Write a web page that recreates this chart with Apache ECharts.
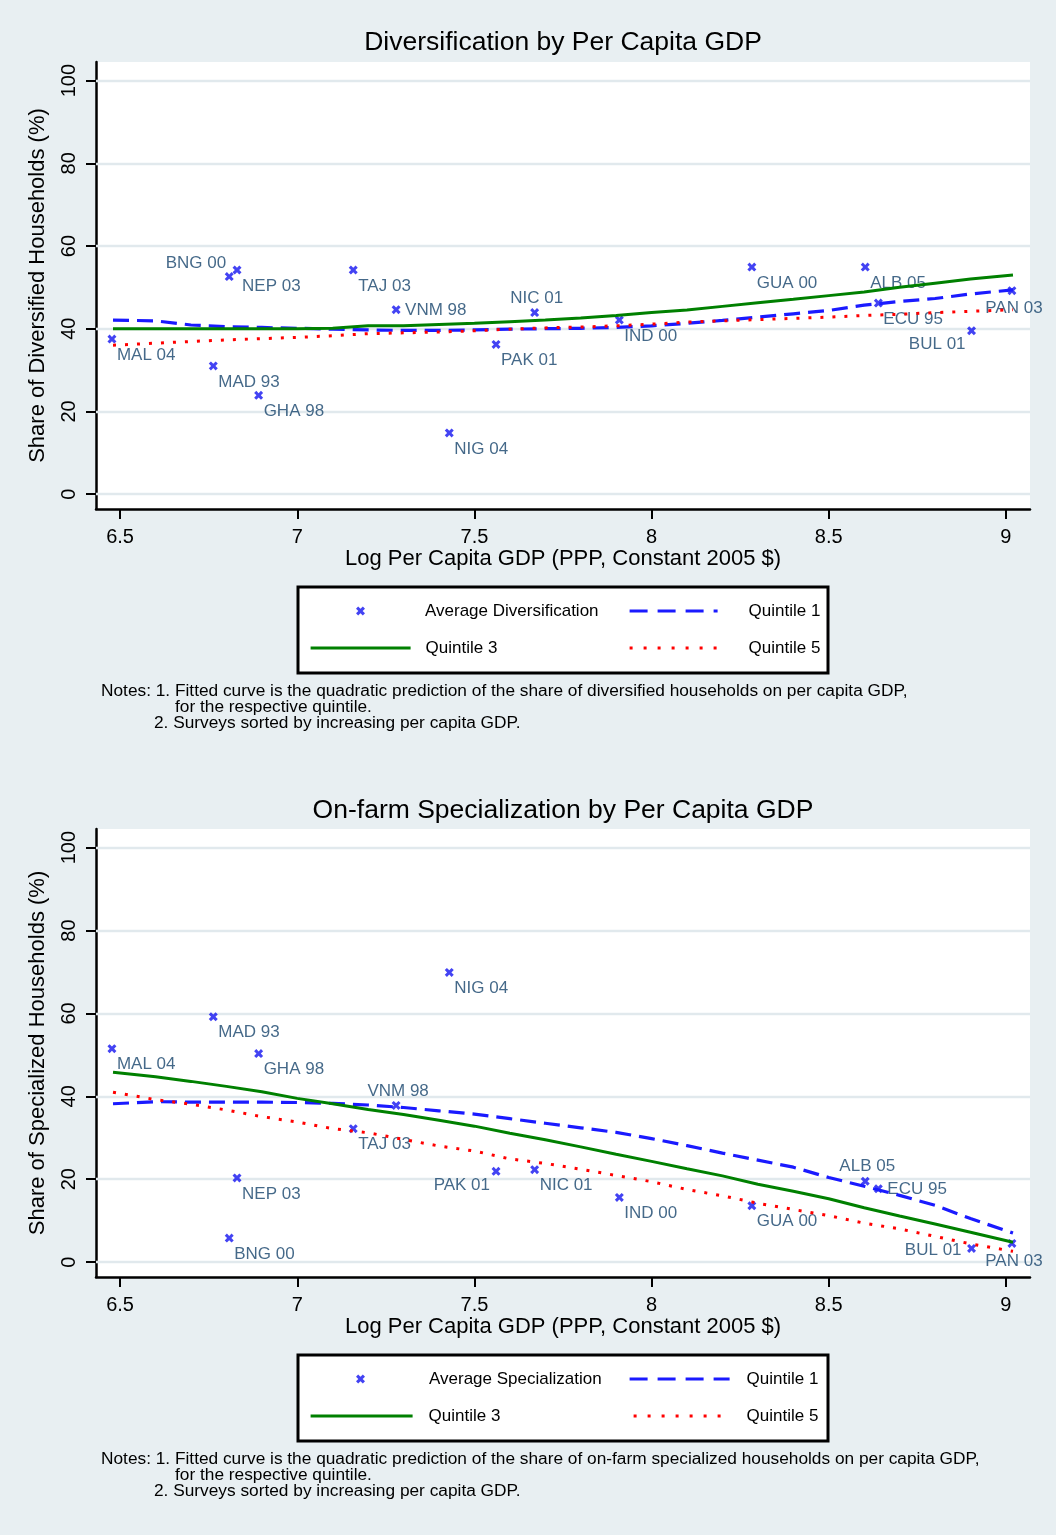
<!DOCTYPE html>
<html>
<head>
<meta charset="utf-8">
<script src="https://cdn.jsdelivr.net/npm/echarts@6/dist/echarts.min.js"></script>
<style>
html,body{margin:0;padding:0;background:#e8eff2;}
#chart{width:1056px;height:1535px;}
</style>
</head>
<body>
<div id="chart"></div>
<script>
// ---------------- DATA ----------------
const surveys = ['MAL 04','MAD 93','BNG 00','NEP 03','GHA 98','TAJ 03','VNM 98','NIG 04','PAK 01','NIC 01','IND 00','GUA 00','ALB 05','ECU 95','BUL 01','PAN 03'];
const logGdp = [6.477,6.763,6.808,6.830,6.891,7.158,7.279,7.429,7.561,7.670,7.909,8.283,8.603,8.640,8.903,9.017];
const divShare = [37.5,31.0,52.6,54.2,23.9,54.2,44.6,14.8,36.2,43.9,42.1,54.9,54.9,46.2,39.5,49.2];
const specShare = [51.5,59.2,5.8,20.3,50.3,32.2,37.8,69.9,21.9,22.3,15.6,13.6,19.5,17.7,3.3,4.5];
// marker-label clock positions (as in Stata mlabvposition)
const divLabelClock = [4,4,10,4,4,4,3,4,4,12,4,4,4,4,7,6];
const specLabelClock = [4,4,4,4,4,4,12,4,7,4,4,4,12,3,9,6];

// fitted curves read at these log-GDP values
const fitX = [6.48,6.6,6.7,6.8,6.9,7.0,7.1,7.2,7.3,7.4,7.5,7.6,7.7,7.8,7.9,8.0,8.1,8.2,8.3,8.4,8.5,8.6,8.7,8.8,8.9,9.02];
const divQ1 = [42.1,41.9,40.9,40.5,40.3,40.1,39.9,39.7,39.6,39.6,39.7,39.9,40.0,40.1,40.3,40.7,41.3,42.0,42.8,43.6,44.4,45.7,46.6,47.3,48.4,49.4];
const divQ3 = [40.0,40.0,40.0,40.0,40.0,40.0,40.1,40.7,40.7,41.0,41.3,41.7,42.1,42.6,43.2,43.9,44.5,45.4,46.3,47.1,48.0,48.9,50.0,51.0,52.0,53.0];
const divQ5 = [36.0,36.5,36.9,37.3,37.6,37.9,38.3,38.8,39.0,39.2,39.5,39.9,40.2,40.4,40.7,41.1,41.6,41.9,42.2,42.5,42.8,43.2,43.5,43.9,44.2,44.6];
const specQ1 = [38.2,38.7,38.6,38.6,38.6,38.5,38.3,37.9,37.3,36.5,35.7,34.6,33.5,32.4,31.3,29.8,28.1,26.3,24.6,22.9,20.4,18.3,16.1,13.7,10.5,7.0];
const specQ3 = [45.8,44.7,43.6,42.4,41.1,39.5,38.2,36.8,35.6,34.2,32.8,31.1,29.5,27.8,26.0,24.3,22.5,20.8,18.8,17.1,15.3,13.1,11.1,9.2,7.2,4.8];
const specQ5 = [41.0,39.2,38.1,36.7,35.1,33.8,32.2,31.2,29.6,28.0,26.8,24.9,23.8,22.4,20.9,19.4,17.5,16.0,14.2,12.7,11.2,9.4,8.0,6.2,4.4,2.6];

const xTicks = [6.5,7,7.5,8,8.5,9];
const yTicks = [0,20,40,60,80,100];

const titles = ['Diversification by Per Capita GDP','On-farm Specialization by Per Capita GDP'];
const yNames = ['Share of Diversified Households (%)','Share of Specialized Households (%)'];
const xName = 'Log Per Capita GDP (PPP, Constant 2005 $)';
const avgNames = ['Average Diversification','Average Specialization'];
const qNames = ['Quintile 1','Quintile 3','Quintile 5'];
const notes = [
  ['Notes: 1. Fitted curve is the quadratic prediction of the share of diversified households on per capita GDP,','for the respective quintile.','2. Surveys sorted by increasing per capita GDP.'],
  ['Notes: 1. Fitted curve is the quadratic prediction of the share of on-farm specialized households on per capita GDP,','for the respective quintile.','2. Surveys sorted by increasing per capita GDP.']
];

// ---------------- STYLE ----------------
const FONT = '"Liberation Sans", Helvetica, Arial, sans-serif';
const BG = '#e8eff2';
const GRIDC = '#e1e9ed';
const LABELC = '#17436b';
const BLUE = '#1a1aff', GREEN = '#008000', RED = '#ff0000', MBLUE = '#1414f0';
const XSYM = 'path://M0,2.4L2.4,0L5,2.6L7.6,0L10,2.4L7.4,5L10,7.6L7.6,10L5,7.4L2.4,10L0,7.6L2.6,5Z';
const clockMap = {
  3: {dx: 9, dy: 1, align: 'left', va: 'middle'},
  4: {dx: 5, dy: 16, align: 'left', va: 'middle'},
  6: {dx: 2, dy: 9, align: 'center', va: 'top'},
  7: {dx: -6, dy: 14, align: 'right', va: 'middle'},
  9: {dx: -10, dy: 2, align: 'right', va: 'middle'},
  10: {dx: -3, dy: -13, align: 'right', va: 'middle'},
  12: {dx: 2, dy: -6, align: 'center', va: 'bottom'}
};

const panels = [
  {top: 62, height: 447, titleY: 43, legY: 587, notesY: 691, values: divShare, clocks: divLabelClock, q: [divQ1, divQ3, divQ5],
   leg: {avg: [356, 55], q1: [628, 88, 26], q3: [309, 100, 10], q5: [628, 92, 22]}, notesSize: 17.3},
  {top: 829, height: 448, titleY: 811, legY: 1355, notesY: 1459, values: specShare, clocks: specLabelClock, q: [specQ1, specQ3, specQ5],
   leg: {avg: [356, 59], q1: [628, 100, 12], q3: [309, 102, 11], q5: [632, 90, 18]}, notesSize: 17.3}
];

const option = {
  backgroundColor: BG,
  animation: false,
  grid: [], xAxis: [], yAxis: [], series: [], legend: [], graphic: []
};

panels.forEach((p, i) => {
  option.grid.push({left: 96, top: p.top, width: 934, height: p.height, containLabel: false, outerBoundsMode: 'none',
    show: true, backgroundColor: '#ffffff', borderWidth: 0});
  option.xAxis.push({
    type: 'value', gridIndex: i, min: 6.432, max: 9.068,
    name: xName, nameLocation: 'middle', nameGap: 38,
    nameTextStyle: {fontFamily: FONT, fontSize: 22, color: '#000'},
    axisLine: {show: true, onZero: false, lineStyle: {color: '#000', width: 2.5}},
    axisTick: {show: true, length: 10, customValues: xTicks, lineStyle: {color: '#000', width: 2}},
    axisLabel: {customValues: xTicks, fontFamily: FONT, fontSize: 20, color: '#000', margin: 18,
      formatter: v => String(v)},
    splitLine: {show: false}
  });
  option.yAxis.push({
    type: 'value', gridIndex: i, min: -3.6, max: 104.5,
    name: yNames[i], nameLocation: 'middle', nameGap: 47,
    nameTextStyle: {fontFamily: FONT, fontSize: 22, color: '#000'},
    axisLine: {show: true, onZero: false, lineStyle: {color: '#000', width: 2.5}},
    axisTick: {show: true, length: 10, customValues: yTicks, lineStyle: {color: '#000', width: 2}},
    axisLabel: {customValues: yTicks, rotate: 90, fontFamily: FONT, fontSize: 20, color: '#000', margin: 17,
      formatter: v => String(v)},
    splitLine: {show: false}
  });

  // horizontal gridlines at the y ticks
  option.series.push({
    type: 'line', name: 'grid' + i, xAxisIndex: i, yAxisIndex: i, data: [], silent: true, z: 1,
    markLine: {silent: true, z: 1, symbol: 'none', animation: false, label: {show: false},
      lineStyle: {color: GRIDC, width: 2.4, type: 'solid'},
      emphasis: {disabled: true},
      data: yTicks.map(v => ({yAxis: v}))}
  });

  const avgName = avgNames[i];
  option.series.push({
    type: 'scatter', name: avgName, xAxisIndex: i, yAxisIndex: i, z: 3,
    symbol: XSYM, symbolSize: 9, itemStyle: {color: MBLUE},
    label: {show: true, fontFamily: FONT, fontSize: 17, color: LABELC, formatter: d => surveys[d.dataIndex]},
    data: logGdp.map((x, k) => {
      const c = clockMap[p.clocks[k]];
      return {value: [x, p.values[k]],
        label: {position: [4.5 + c.dx, 4.5 + c.dy], align: c.align, verticalAlign: c.va}};
    })
  });
  const qStyles = [
    {color: BLUE, width: 3.2, type: [16, 8]},
    {color: GREEN, width: 3, type: 'solid'},
    {color: RED, width: 3, type: [3, 9]}
  ];
  qNames.forEach((qn, j) => {
    option.series.push({
      type: 'line', name: qn + (i ? ' ' : ''), xAxisIndex: i, yAxisIndex: i, z: 4 + j,
      symbol: 'none', showSymbol: false, smooth: false,
      lineStyle: Object.assign({cap: 'butt'}, qStyles[j]), itemStyle: {color: qStyles[j].color},
      data: fitX.map((x, k) => [x, p.q[j][k]])
    });
  });

  // legend box
  option.graphic.push({type: 'rect', z: 0, shape: {x: 298, y: p.legY, width: 530, height: 86},
    style: {fill: '#fff', stroke: '#000', lineWidth: 3}});
  const row1 = p.legY + 24, row2 = p.legY + 61;
  const legText = (pad) => ({fontFamily: FONT, fontSize: 17, color: '#000', padding: [0, 0, 0, pad], lineHeight: 20});
  const lineLeg = (pos, name, top, dash) => ({left: pos[0], top: top - 10, padding: 0, selectedMode: false,
    itemWidth: pos[1], itemHeight: 14, itemStyle: {opacity: 0},
    lineStyle: {width: 3.2, type: dash},
    data: [name], textStyle: legText(pos[2]), formatter: n => n.trim()});
  option.legend.push({left: p.leg.avg[0], top: row1 - 10, padding: 0, selectedMode: false, itemWidth: 9, itemHeight: 9,
    data: [avgName], textStyle: legText(p.leg.avg[1])});
  option.legend.push(lineLeg(p.leg.q1, qNames[0] + (i ? ' ' : ''), row1, [18, 10]));
  option.legend.push(lineLeg(p.leg.q3, qNames[1] + (i ? ' ' : ''), row2, 'solid'));
  option.legend.push(lineLeg(p.leg.q5, qNames[2] + (i ? ' ' : ''), row2, [3, 11]));

  // title
  option.graphic.push({type: 'text', x: 563, y: p.titleY, style: {text: titles[i], font: '26.5px ' + FONT, fill: '#000',
    textAlign: 'center', textVerticalAlign: 'middle'}});
  // notes
  const nx = [101, 175, 154];
  notes[i].forEach((t, k) => {
    option.graphic.push({type: 'text', x: nx[k], y: p.notesY + k * 16,
      style: {text: t, font: p.notesSize + 'px ' + FONT, fill: '#000', textVerticalAlign: 'middle'}});
  });
});

const chart = echarts.init(document.getElementById('chart'), null, {renderer: 'canvas'});
chart.setOption(option);
</script>
</body>
</html>
